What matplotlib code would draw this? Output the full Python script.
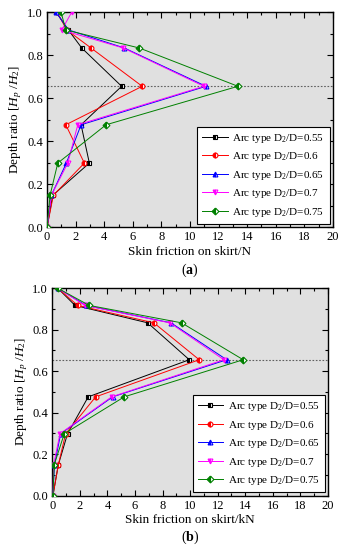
import matplotlib
matplotlib.use("Agg")
import matplotlib.pyplot as plt
from matplotlib.ticker import MultipleLocator

plt.rcParams['font.family'] = ['Liberation Serif', 'DejaVu Serif']
plt.rcParams['mathtext.fontset'] = 'custom'
plt.rcParams['mathtext.rm'] = 'Liberation Serif'
plt.rcParams['mathtext.it'] = 'Liberation Serif:italic'
plt.rcParams['mathtext.bf'] = 'Liberation Serif:bold'

depth = [1.0, 0.917, 0.833, 0.655, 0.476, 0.298, 0.148, 0.0]
labels = ["0.55", "0.6", "0.65", "0.7", "0.75"]

a_055 = [0.63, 1.49, 2.43, 5.22, 2.38, 2.96, 0.40, 0.0]
a_060 = [0.70, 1.38, 3.08, 6.66, 1.31, 2.61, 0.44, 0.0]
a_065 = [0.63, 1.50, 5.41, 11.12, 2.38, 1.35, 0.30, 0.0]
a_070 = [1.73, 1.03, 5.34, 10.98, 2.15, 1.45, 0.30, 0.0]
a_075 = [0.98, 1.31, 6.46, 13.36, 4.13, 0.75, 0.21, 0.0]

b_055 = [0.40, 1.65, 6.92, 9.94, 2.61, 1.11, 0.44, 0.05]
b_060 = [0.40, 1.84, 7.37, 10.66, 3.15, 0.97, 0.44, 0.05]
b_065 = [0.40, 2.44, 8.61, 12.65, 4.38, 0.61, 0.16, 0.05]
b_070 = [0.40, 2.37, 8.53, 12.45, 4.31, 0.56, 0.10, 0.05]
b_075 = [0.40, 2.68, 9.38, 13.85, 5.22, 0.87, 0.14, 0.05]

peak_line = 0.655

colors = ['#000000', '#ff0000', '#0000ff', '#ff00ff', '#008000']
markers = ['s', 'o', '^', 'v', 'D']

fig = plt.figure(figsize=(3.46, 5.50), dpi=100)
ax1 = fig.add_axes([0.136, 0.587, 0.826, 0.391])
ax2 = fig.add_axes([0.151, 0.099, 0.797, 0.377])

def draw(ax, series, xlabel, tag):
    ax.set_facecolor('#e0e0e0')
    ax.axhline(peak_line, color='#606060', ls=(0, (1.5, 1.5)), lw=0.8, zorder=1)
    for s, c, m, lab in zip(series, colors, markers, labels):
        ax.plot(s, depth, color=c, lw=0.7, marker=m, markersize=3.5,
                fillstyle='left', markerfacecoloralt='white', markeredgewidth=0.8,
                label=r'Arc type D$_2$/D=' + lab, zorder=3)
    ax.set_xlim(0, 20)
    ax.set_ylim(0, 1.0)
    ax.xaxis.set_major_locator(MultipleLocator(2))
    ax.xaxis.set_minor_locator(MultipleLocator(1))
    ax.yaxis.set_major_locator(MultipleLocator(0.2))
    ax.yaxis.set_minor_locator(MultipleLocator(0.1))
    ax.yaxis.set_major_formatter(matplotlib.ticker.FormatStrFormatter('%.1f'))
    ax.tick_params(which='both', direction='in', top=True, right=True, labelsize=9, pad=3)
    ax.tick_params(which='major', length=4, width=0.8)
    ax.tick_params(which='minor', length=2, width=0.8)
    for sp in ax.spines.values():
        sp.set_linewidth(1.0)
    ax.set_xlabel(xlabel, fontsize=9.5, labelpad=2)
    ax.set_ylabel(r'Depth ratio [$H_p$ /$H_2$]', fontsize=9.5, labelpad=2)
    leg = ax.legend(loc='lower right', fontsize=8, frameon=True, fancybox=False,
                    edgecolor='black', framealpha=1, handlelength=2.3,
                    borderpad=0.45, labelspacing=0.5, handletextpad=0.4,
                    borderaxespad=0.3, bbox_to_anchor=(1.0, 0.0))
    leg.get_frame().set_linewidth(0.8)
    ax.text(0.5, -0.2, '(' + r'$\mathbf{' + tag + '}$' + ')', transform=ax.transAxes,
            ha='center', va='center', fontsize=10)

draw(ax1, [a_055, a_060, a_065, a_070, a_075], 'Skin friction on skirt/N', 'a')
draw(ax2, [b_055, b_060, b_065, b_070, b_075], 'Skin friction on skirt/kN', 'b')

fig.savefig('out.png', dpi=100)
